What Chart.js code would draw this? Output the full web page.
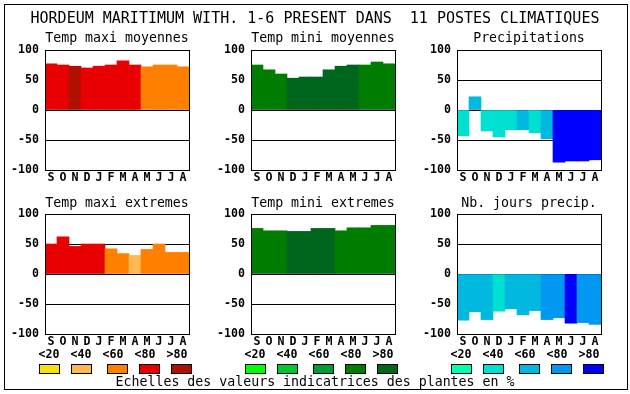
<!DOCTYPE html>
<html>
<head>
<meta charset="utf-8">
<script src="https://cdn.jsdelivr.net/npm/chart.js@4/dist/chart.umd.min.js"></script>
<style>
  html, body { margin: 0; padding: 0; background: #fff; }
  body { width: 630px; height: 394px; position: relative; overflow: hidden; font-family: "DejaVu Sans Mono", monospace; }
  #frame { position: absolute; left: 4px; top: 4px; width: 624px; height: 386px; border: 1px solid #000; box-sizing: border-box; }
  .txt { position: absolute; white-space: pre; color: #000; transform: translate(-50%, -50%); line-height: 1; }
  .panel { position: absolute; }
  .sw { position: absolute; width: 21px; height: 10px; border: 1px solid #000; box-sizing: border-box; }
</style>
</head>
<body>
<div id="frame"></div>
<div id="stage"></div>
<script>
// months, September to August
const months = ["S", "O", "N", "D", "J", "F", "M", "A", "M", "J", "J", "A"];

// values (% scale, -100..100)
const maxiMoyennes = [77, 75, 73, 70, 73, 75, 82, 75, 72, 75, 75, 72];
const miniMoyennes = [75, 67, 60, 53, 55, 55, 67, 73, 75, 75, 80, 77];
const precipitations = [-43, 22, -35, -45, -33, -33, -38, -48, -87, -85, -85, -83];
const maxiExtremes = [50, 62, 46, 50, 50, 42, 34, 31, 41, 50, 36, 36];
const miniExtremes = [76, 72, 72, 71, 71, 76, 76, 72, 77, 77, 81, 81];
const joursPrecip = [-77, -63, -76, -62, -58, -68, -61, -76, -73, -82, -81, -84];

// class of each bar in the legend scale (0 = <20 ... 4 = >80)
const maxiMoyClass = [3, 3, 4, 3, 3, 3, 3, 3, 2, 2, 2, 2];
const miniMoyClass = [3, 3, 3, 4, 4, 4, 4, 4, 4, 3, 3, 3];
const precipClass = [1, 2, 1, 1, 1, 2, 1, 2, 4, 4, 4, 4];
const maxiExtClass = [3, 3, 3, 3, 3, 2, 2, 1, 2, 2, 2, 2];
const miniExtClass = [3, 3, 3, 4, 4, 4, 4, 3, 3, 3, 3, 3];
const joursClass = [2, 2, 2, 1, 2, 2, 2, 3, 3, 4, 3, 3];

const yTicks = [-100, -50, 0, 50, 100];
const scaleLabels = ["<20", "<40", "<60", "<80", ">80"];

// colour scales
const redScale = ["#f8e010", "#ffb850", "#ff8000", "#e80000", "#b01000"];
const greenScale = ["#00ff00", "#00c830", "#009c30", "#007c00", "#00661e"];
const blueScale = ["#00ffb0", "#00e0d0", "#00b8e0", "#0098f0", "#0000ff"];

const MAIN_TITLE = "HORDEUM MARITIMUM WITH. 1-6 PRESENT DANS  11 POSTES CLIMATIQUES";
const FOOTER = "Echelles des valeurs indicatrices des plantes en %";

const STAGE = document.getElementById("stage");
const PLOT_W = 144, PLOT_H = 120;
const COL_X = [45, 251, 457];
const ROW_Y = [50, 214];

const panels = [
  { title: "Temp maxi moyennes", data: maxiMoyennes, cls: maxiMoyClass, scale: redScale, col: 0, row: 0 },
  { title: "Temp mini moyennes", data: miniMoyennes, cls: miniMoyClass, scale: greenScale, col: 1, row: 0 },
  { title: "Precipitations", data: precipitations, cls: precipClass, scale: blueScale, col: 2, row: 0 },
  { title: "Temp maxi extremes", data: maxiExtremes, cls: maxiExtClass, scale: redScale, col: 0, row: 1 },
  { title: "Temp mini extremes", data: miniExtremes, cls: miniExtClass, scale: greenScale, col: 1, row: 1 },
  { title: "Nb. jours precip.", data: joursPrecip, cls: joursClass, scale: blueScale, col: 2, row: 1 },
];

function addText(str, x, y, size, bold) {
  const el = document.createElement("div");
  el.className = "txt";
  el.textContent = str;
  el.style.left = x + "px";
  el.style.top = y + "px";
  el.style.fontSize = size + "px";
  if (bold) el.style.fontWeight = "bold";
  STAGE.appendChild(el);
}

// box around the plot area
const framePlugin = {
  id: "plotFrame",
  afterDraw(chart) {
    const a = chart.chartArea, ctx = chart.ctx;
    ctx.save();
    ctx.strokeStyle = "#000";
    ctx.lineWidth = 1;
    ctx.strokeRect(Math.round(a.left) + 0.5, Math.round(a.top) + 0.5, Math.round(a.right - a.left), Math.round(a.bottom - a.top));
    ctx.restore();
  },
};

const tickFont = { family: "DejaVu Sans Mono", size: 11.6, weight: "bold" };

function renderPanel(p) {
  const plotLeft = COL_X[p.col], plotTop = ROW_Y[p.row];
  const wrap = document.createElement("div");
  wrap.className = "panel";
  const canvas = document.createElement("canvas");
  // 8 above, 120 plot, 24 for month letters
  canvas.width = 45 + PLOT_W + 7;
  canvas.height = 8 + PLOT_H + 24;
  wrap.appendChild(canvas);
  STAGE.appendChild(wrap);

  const chart = new Chart(canvas.getContext("2d"), {
    type: "bar",
    data: {
      labels: months,
      datasets: [{
        data: p.data,
        backgroundColor: p.cls.map((c) => p.scale[c]),
        borderWidth: 0,
        barPercentage: 1,
        categoryPercentage: 1,
      }],
    },
    options: {
      responsive: false,
      maintainAspectRatio: false,
      animation: false,
      events: [],
      layout: { padding: { top: 8, right: 7, left: 0, bottom: 0 } },
      plugins: { legend: { display: false }, tooltip: { enabled: false }, title: { display: false } },
      scales: {
        x: {
          grid: { display: false, drawTicks: false },
          border: { display: false },
          ticks: { color: "#000", font: tickFont, padding: 1, autoSkip: false, maxRotation: 0 },
          afterFit(scale) { scale.height = 24; scale.paddingLeft = 0; scale.paddingRight = 0; },
        },
        y: {
          min: -100,
          max: 100,
          z: 1,
          afterBuildTicks(scale) { scale.ticks = yTicks.map((v) => ({ value: v })); },
          grid: { color: "#000", lineWidth: 1, drawTicks: false },
          border: { display: false },
          ticks: { color: "#000", font: tickFont, padding: 6 },
          afterFit(scale) { scale.width = 45; scale.paddingTop = 0; scale.paddingBottom = 0; },
        },
      },
    },
    plugins: [framePlugin],
  });

  wrap.style.left = (plotLeft - Math.round(chart.chartArea.left)) + "px";
  wrap.style.top = (plotTop - Math.round(chart.chartArea.top)) + "px";

  addText(p.title, plotLeft + PLOT_W / 2, p.row === 0 ? 38 : 203, 13.25, false);
}

panels.forEach(renderPanel);

addText(MAIN_TITLE, 315, 18, 15, false);

// legend scales under each column
[redScale, greenScale, blueScale].forEach((colors, g) => {
  const base = 39 + g * 206;
  const offsets = [0, 32, 68, 100, 132];
  colors.forEach((c, k) => {
    const sw = document.createElement("div");
    sw.className = "sw";
    sw.style.left = (base + offsets[k]) + "px";
    sw.style.top = "364px";
    sw.style.background = c;
    STAGE.appendChild(sw);
    addText(scaleLabels[k], base + 10 + 32 * k, 355, 11.6, true);
  });
});

addText(FOOTER, 315, 382, 13.25, false);
</script>
</body>
</html>
